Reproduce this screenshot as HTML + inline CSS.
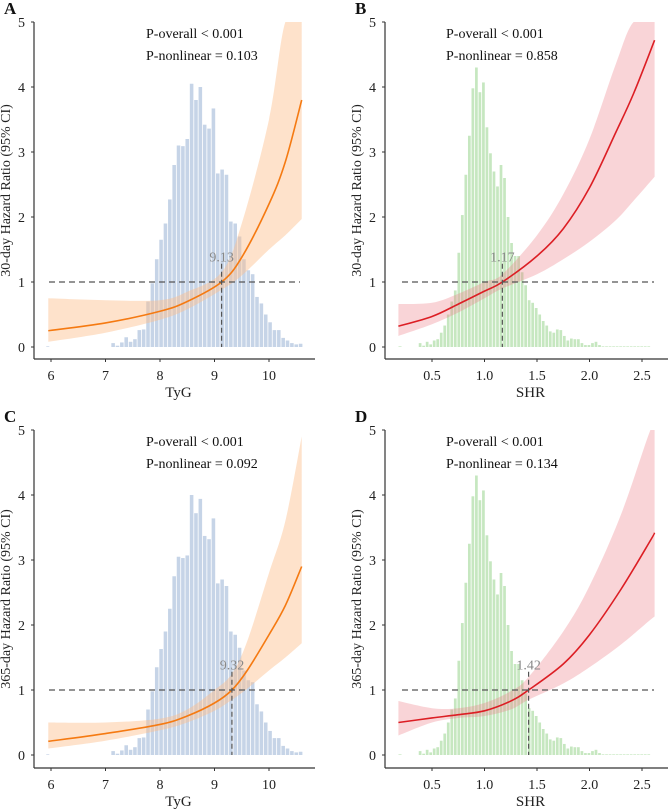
<!DOCTYPE html>
<html><head><meta charset="utf-8">
<style>
html,body{margin:0;padding:0;background:#fff;}
svg{display:block;font-family:"Liberation Serif",serif;}
</style></head>
<body>
<svg id="fig" width="669" height="809" viewBox="0 0 669 809" xmlns="http://www.w3.org/2000/svg"></svg>
<script>
// ---------- data ----------
const tygBinStart = 7.1, tygBinWidth = 0.08;
const tygHist = [0.06,0.02,0.07,0.15,0.08,0.12,0.26,0.27,0.7,0.98,1.35,1.65,1.9,2.27,2.8,3.1,3.09,3.2,4.05,3.8,4.0,3.42,3.36,3.67,2.67,2.73,2.65,1.93,1.9,1.7,1.35,1.18,1.12,0.77,0.67,0.5,0.38,0.26,0.26,0.14,0.1,0.06,0.04,0.05];
const tygHistC = [0.06,0.02,0.07,0.15,0.08,0.12,0.26,0.27,0.7,0.98,1.35,1.63,1.9,2.25,2.75,3.05,3.03,3.07,4.0,3.72,3.94,3.37,3.32,3.64,2.64,2.7,2.6,1.9,1.85,1.65,1.3,1.15,1.12,0.78,0.67,0.5,0.37,0.26,0.26,0.14,0.1,0.06,0.04,0.05];
const shrBinStart = 0.37, shrBinWidth = 0.0335;
const shrHist = [0.06,0.02,0.08,0.04,0.1,0.12,0.22,0.33,0.5,0.7,0.87,1.45,2.03,2.65,3.25,3.98,4.3,3.92,4.07,3.38,2.98,2.7,2.47,2.8,2.6,2.0,1.6,1.4,1.4,1.15,0.95,0.72,0.68,0.6,0.5,0.4,0.33,0.24,0.22,0.27,0.26,0.17,0.1,0.13,0.12,0.12,0.06,0.03,0.03,0.06,0.08,0.03,0.01,0.01,0.01,0.01,0.01,0.01,0.01,0.01,0.01,0.01,0.01,0.01,0.01,0.01];

const aX = [5.95,7,8,8.5,9.13,9.5,10,10.3,10.6];
const aFit = [0.25,0.37,0.55,0.7,1.0,1.38,2.2,2.85,3.8];
const aLo = [0.08,0.22,0.42,0.58,0.88,1.1,1.5,1.72,1.97];
const aHi = [0.75,0.72,0.72,0.85,1.15,1.9,3.5,5,5];

const bX = [0.18,0.5,0.75,1.0,1.17,1.5,1.75,2.0,2.25,2.42,2.62];
const bFit = [0.32,0.47,0.66,0.86,1.0,1.4,1.82,2.45,3.3,3.9,4.72];
const bLo = [0.17,0.35,0.53,0.75,0.9,1.12,1.35,1.62,1.95,2.25,2.62];
const bHi = [0.66,0.68,0.82,1.0,1.12,1.72,2.35,3.2,4.35,5,5];

const cX = [5.95,7,8,8.5,9.0,9.32,9.6,10,10.3,10.6];
const cFit = [0.21,0.33,0.47,0.6,0.8,1.0,1.3,1.85,2.3,2.9];
const cLo = [0.1,0.22,0.38,0.5,0.68,0.85,1.02,1.3,1.5,1.72];
const cHi = [0.5,0.5,0.56,0.7,1.0,1.25,1.75,2.8,3.6,4.9];

const dX = [0.18,0.5,0.75,1.0,1.25,1.42,1.75,2.0,2.3,2.58,2.62];
const dFit = [0.5,0.57,0.62,0.68,0.83,1.0,1.4,1.85,2.55,3.3,3.42];
const dLo = [0.3,0.5,0.57,0.6,0.7,0.85,1.1,1.35,1.7,2.08,2.13];
const dHi = [0.83,0.72,0.72,0.8,0.98,1.2,1.9,2.6,3.7,5,5];

const yTicks = [0,1,2,3,4,5];
const tygTicks = [6,7,8,9,10];
const shrTicks = [0.5,1.0,1.5,2.0,2.5];

// ---------- drawing ----------
const NS = "http://www.w3.org/2000/svg";
const svg = document.getElementById('fig');
function mk(tag, attrs, parent){
  const e = document.createElementNS(NS, tag);
  for (const k in attrs) e.setAttribute(k, attrs[k]);
  (parent||svg).appendChild(e);
  return e;
}
function smooth(pts){
  let d = "M" + pts[0][0].toFixed(2) + "," + pts[0][1].toFixed(2);
  for (let i=0;i<pts.length-1;i++){
    const p0 = pts[Math.max(0,i-1)], p1 = pts[i], p2 = pts[i+1], p3 = pts[Math.min(pts.length-1,i+2)];
    const c1x = p1[0]+(p2[0]-p0[0])/6, c1y = p1[1]+(p2[1]-p0[1])/6;
    const c2x = p2[0]-(p3[0]-p1[0])/6, c2y = p2[1]-(p3[1]-p1[1])/6;
    d += " C"+c1x.toFixed(2)+","+c1y.toFixed(2)+" "+c2x.toFixed(2)+","+c2y.toFixed(2)+" "+p2[0].toFixed(2)+","+p2[1].toFixed(2);
  }
  return d;
}

let clipId = 0;
function panel(o){
  const g = mk('g', {});
  
  
  const sx = v => o.x0 + (v - o.v0) * o.ppu;
  const sy = v => o.yBase - v * 65;
  const cid = 'clip' + (clipId++);
  const cp = mk('clipPath', {id:cid}, g);
  mk('rect', {x:o.axisX, y:sy(5), width:o.axisEnd-o.axisX, height:sy(0)-sy(5)+20}, cp);
  const inner = mk('g', {'clip-path':'url(#'+cid+')'}, g);

  const hg = mk('g', {}, inner);
  
  
  o.hist.forEach((h,i)=>{
    const x1 = sx(o.binStart + i*o.binWidth), x2 = sx(o.binStart + (i+1)*o.binWidth);
    const r = mk('rect', {x:x1+0.4, y:sy(h), width:Math.max(0.5,x2-x1-0.8), height:sy(0)-sy(h), fill:o.histColor}, hg);
    
    
  });
  if (o.tinyBar !== undefined){
    const r = mk('rect', {x:sx(o.tinyBar)-2, y:sy(0.01), width:3, height:sy(0)-sy(0.01), fill:o.histColor}, hg);
    
    
  }

  const up = o.xs.map((v,i)=>[sx(v), sy(o.hi[i])]);
  const lo = o.xs.map((v,i)=>[sx(v), sy(o.lo[i])]).reverse();
  let bd = smooth(up) + " L" + lo[0][0] + "," + lo[0][1] + smooth(lo).replace(/^M[^C]*/, ' ') + " Z";
  const band = mk('path', {d:bd, fill:o.bandColor, stroke:'none'}, inner);
  
  

  const ln = mk('path', {d:smooth(o.xs.map((v,i)=>[sx(v), sy(o.fit[i])])), fill:'none', stroke:o.lineColor, 'stroke-width':1.6}, inner);
  
  

  const h1 = mk('line', {x1:o.refStart, x2:o.refEnd, y1:sy(1), y2:sy(1), stroke:'#555', 'stroke-width':1.2, 'stroke-dasharray':'6,4'}, g);
  
  
  const v1 = mk('line', {x1:sx(o.cut), x2:sx(o.cut), y1:sy(1.28), y2:sy(0), stroke:'#555', 'stroke-width':1.2, 'stroke-dasharray':'5,3'}, g);
  
  
  const ct = mk('text', {x:sx(o.cut), y:sy(1.3)-1, 'text-anchor':'middle', 'font-size':14, fill:'#888'}, g);
  ct.textContent = o.cutLabel;
  
  

  const ya = mk('line', {x1:o.axisX, x2:o.axisX, y1:sy(5), y2:o.axisY, stroke:'#333', 'stroke-width':1.2}, g);
  
  
  const xa = mk('line', {x1:o.axisX, x2:o.axisEnd, y1:o.axisY, y2:o.axisY, stroke:'#333', 'stroke-width':1.2}, g);
  
  
  yTicks.forEach(t=>{
    mk('line', {x1:o.axisX-3, x2:o.axisX, y1:sy(t), y2:sy(t), stroke:'#333', 'stroke-width':1}, g);
    const tx = mk('text', {x:o.axisX-9, y:sy(t)+5, 'text-anchor':'end', 'font-size':14, fill:'#222'}, g);
    tx.textContent = t;
    
    
  });
  o.xTicks.forEach(t=>{
    mk('line', {x1:sx(t), x2:sx(t), y1:o.axisY, y2:o.axisY+3, stroke:'#333', 'stroke-width':1}, g);
    const tx = mk('text', {x:sx(t), y:o.axisY+21, 'text-anchor':'middle', 'font-size':14, fill:'#222'}, g);
    tx.textContent = o.tickFmt(t);
    
    
  });
  const xt = mk('text', {x:(o.axisX+o.axisEnd)/2+4, y:o.axisY+38, 'text-anchor':'middle', 'font-size':15, fill:'#222'}, g);
  xt.textContent = o.xTitle;
  
  
  const ycy = (sy(5)+o.axisY)/2;
  const yt = mk('text', {x:0, y:0, 'text-anchor':'middle', 'font-size':14, fill:'#222', transform:'translate('+(o.axisX-24)+','+ycy+') rotate(-90)'}, g);
  yt.textContent = o.yTitle;
  
  

  const p1 = mk('text', {x:o.pX, y:o.yBase-309, 'font-size':14, fill:'#111'}, g);
  p1.textContent = o.p1;
  
  
  const p2 = mk('text', {x:o.pX, y:o.yBase-287, 'font-size':14, fill:'#111'}, g);
  p2.textContent = o.p2;
  
  
  const L = mk('text', {x:o.axisX-30, y:o.yBase-333, 'font-size':17, 'font-weight':'bold', fill:'#111'}, g);
  L.textContent = o.letter;
  
  
}

const blueHist = 'rgba(176,196,222,0.72)', greenHist = 'rgba(160,215,150,0.6)';
const orangeBand = 'rgba(252,190,140,0.45)', redBand = 'rgba(236,120,130,0.32)';
const tygFmt = t=>String(t), shrFmt = t=>t.toFixed(1);

panel({id:'panel-a', letter:'A', yBase:347, axisX:34, axisEnd:315, axisY:359, x0:51, v0:6, ppu:54.5,
  hist:tygHist, binStart:tygBinStart, binWidth:tygBinWidth, histColor:blueHist, tinyBar:5.95,
  xs:aX, fit:aFit, lo:aLo, hi:aHi, bandColor:orangeBand, lineColor:'#f57a12',
  refStart:49, refEnd:300, cut:9.13, cutLabel:'9.13', xTicks:tygTicks, tickFmt:tygFmt,
  xTitle:'TyG', yTitle:'30-day Hazard Ratio (95% CI)', pX:146, p1:'P-overall < 0.001', p2:'P-nonlinear = 0.103'});
panel({id:'panel-b', letter:'B', yBase:347, axisX:385, axisEnd:668, axisY:359, x0:432, v0:0.5, ppu:105,
  hist:shrHist, binStart:shrBinStart, binWidth:shrBinWidth, histColor:greenHist, tinyBar:0.2,
  xs:bX, fit:bFit, lo:bLo, hi:bHi, bandColor:redBand, lineColor:'#dc1e24',
  refStart:402, refEnd:654, cut:1.17, cutLabel:'1.17', xTicks:shrTicks, tickFmt:shrFmt,
  xTitle:'SHR', yTitle:'30-day Hazard Ratio (95% CI)', pX:446, p1:'P-overall < 0.001', p2:'P-nonlinear = 0.858'});
panel({id:'panel-c', letter:'C', yBase:755, axisX:34, axisEnd:315, axisY:768, x0:51, v0:6, ppu:54.5,
  hist:tygHistC, binStart:tygBinStart, binWidth:tygBinWidth, histColor:blueHist, tinyBar:5.95,
  xs:cX, fit:cFit, lo:cLo, hi:cHi, bandColor:orangeBand, lineColor:'#f57a12',
  refStart:49, refEnd:300, cut:9.32, cutLabel:'9.32', xTicks:tygTicks, tickFmt:tygFmt,
  xTitle:'TyG', yTitle:'365-day Hazard Ratio (95% CI)', pX:146, p1:'P-overall < 0.001', p2:'P-nonlinear = 0.092'});
panel({id:'panel-d', letter:'D', yBase:755, axisX:385, axisEnd:668, axisY:768, x0:432, v0:0.5, ppu:105,
  hist:shrHist, binStart:shrBinStart, binWidth:shrBinWidth, histColor:greenHist, tinyBar:0.2,
  xs:dX, fit:dFit, lo:dLo, hi:dHi, bandColor:redBand, lineColor:'#dc1e24',
  refStart:402, refEnd:654, cut:1.42, cutLabel:'1.42', xTicks:shrTicks, tickFmt:shrFmt,
  xTitle:'SHR', yTitle:'365-day Hazard Ratio (95% CI)', pX:446, p1:'P-overall < 0.001', p2:'P-nonlinear = 0.134'});
</script>
</body></html>
